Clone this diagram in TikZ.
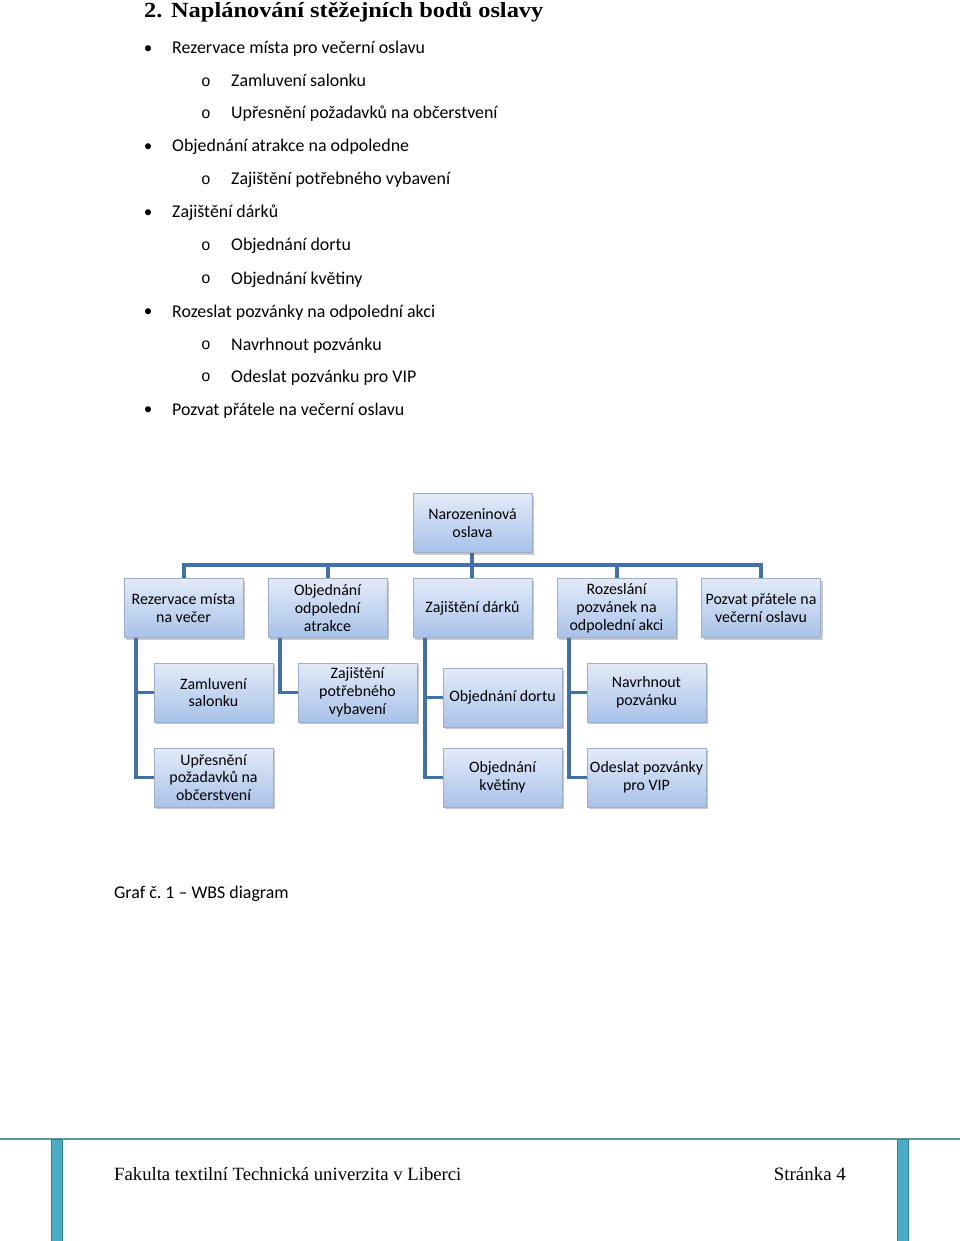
\documentclass[tikz,border=0pt]{standalone}
\usepackage{fontspec}
\setmainfont{Carlito}
\newfontfamily\headfont[FakeStretch=1.13]{Liberation Serif}
\newfontfamily\footfont{Liberation Serif}
\newfontfamily\monofont{Liberation Mono}
\usetikzlibrary{shadows}
\definecolor{connc}{HTML}{4470A8}
\definecolor{boxtop}{HTML}{E3EAF8}
\definecolor{boxbot}{HTML}{A8C2EA}
\definecolor{boxline}{HTML}{9AAECB}
\definecolor{footline}{HTML}{5A9898}
\definecolor{barfill}{HTML}{4BACC6}
\definecolor{barline}{HTML}{2F8197}
\tikzset{
  wbs/.style={draw=boxline, line width=0.6pt, top color=boxtop, bottom color=boxbot,
    minimum width=119pt, minimum height=59pt, align=center,
    inner sep=0.5pt, font=\frenchspacing\fontsize{15.9}{17.8}\selectfont,
    drop shadow={shadow xshift=2pt, shadow yshift=-2pt, opacity=0.35, fill=black!60}},
  conn/.style={draw=connc, line width=3.5pt},
  item/.style={anchor=base west, inner sep=0pt, font=\frenchspacing\fontsize{17.9}{20}\selectfont},
  bul/.style={anchor=base, inner sep=0pt, font=\fontsize{17}{19}\selectfont},
  subbul/.style={anchor=base, inner sep=0pt, font=\monofont\fontsize{16}{19}\selectfont},
}
\begin{document}
\begin{tikzpicture}[x=1pt,y=-1pt]
\useasboundingbox[fill=white] (0,0) rectangle (960,1241);
% heading
\node[anchor=base west, inner sep=0pt, font=\headfont\bfseries\fontsize{21.6}{24}\selectfont] (head) at (144,17.5) {2.\hspace{0.4em}Naplánování stěžejních bodů oslavy};
% list
\node[bul] (b1) at (148,53.5) {•};
\node[item] (t1) at (172,54) {Rezervace místa pro večerní oslavu};
\node[subbul] (s11) at (206,86.5) {o};
\node[item] (t11) at (231,87) {Zamluvení salonku};
\node[subbul] (s12) at (206,118.5) {o};
\node[item] (t12) at (231,119) {Upřesnění požadavků na občerstvení};
\node[bul] (b2) at (148,151.5) {•};
\node[item] (t2) at (172,152) {Objednání atrakce na odpoledne};
\node[subbul] (s21) at (206,184.5) {o};
\node[item] (t21) at (231,185) {Zajištění potřebného vybavení};
\node[bul] (b3) at (148,217.5) {•};
\node[item] (t3) at (172,218) {Zajištění dárků};
\node[subbul] (s31) at (206,250.5) {o};
\node[item] (t31) at (231,251) {Objednání dortu};
\node[subbul] (s32) at (206,283.5) {o};
\node[item] (t32) at (231,284) {Objednání květiny};
\node[bul] (b4) at (148,316.5) {•};
\node[item] (t4) at (172,317) {Rozeslat pozvánky na odpolední akci};
\node[subbul] (s41) at (206,349.5) {o};
\node[item] (t41) at (231,350) {Navrhnout pozvánku};
\node[subbul] (s42) at (206,381.5) {o};
\node[item] (t42) at (231,382) {Odeslat pozvánku pro VIP};
\node[bul] (b5) at (148,414.5) {•};
\node[item] (t5) at (172,415) {Pozvat přátele na večerní oslavu};
% WBS
\draw[conn] (472,553) -- (472,578);
\draw[conn] (184,578) -- (184,565) -- (761,565) -- (761,578);
\foreach \x in {328,617} {\draw[conn] (\x,565) -- (\x,578);}
\node[wbs] (root) at (472.5,523) {Narozeninová\\oslava};
\node[wbs] (c1) at (183.5,608) {Rezervace místa\\na večer};
\node[wbs] (c2) at (327.5,608) {Objednání\\odpolední\\atrakce};
\node[wbs] (c3) at (472.5,608) {Zajištění dárků};
\node[wbs] (c4) at (616.5,608) {Rozeslání\\pozvánek na\\odpolední akci};
\node[wbs] (c5) at (761,608) {Pozvat přátele na\\večerní oslavu};
\node[wbs] (g11) at (213.5,692.5) {Zamluvení\\salonku};
\node[wbs] (g12) at (213.5,777.5) {Upřesnění\\požadavků na\\občerstvení};
\node[wbs] (g21) at (357.5,692.5) {Zajištění\\potřebného\\vybavení};
\node[wbs] (g31) at (502.5,697.5) {Objednání dortu};
\node[wbs] (g32) at (502.5,777.5) {Objednání\\květiny};
\node[wbs] (g41) at (646.5,692.5) {Navrhnout\\pozvánku};
\node[wbs] (g42) at (646.5,777.5) {Odeslat pozvánky\\pro VIP};
\draw[conn] ([xshift=12.5pt]c1.south west) |- (g12.west);
\draw[conn] ([xshift=12.5pt]c1.south west |- g11.west) -- (g11.west);
\draw[conn] ([xshift=12.5pt]c2.south west) |- (g21.west);
\draw[conn] ([xshift=12.5pt]c3.south west) |- (g32.west);
\draw[conn] ([xshift=12.5pt]c3.south west |- g31.west) -- (g31.west);
\draw[conn] ([xshift=12.5pt]c4.south west) |- (g42.west);
\draw[conn] ([xshift=12.5pt]c4.south west |- g41.west) -- (g41.west);
% caption
\node[item] (cap) at (114,898) {Graf č. 1 – WBS diagram};
% footer
\draw[footline, line width=2pt] (0,1139) -- (960,1139);
\draw[barline, fill=barfill, line width=0.8pt] (51.5,1139) rectangle (62.5,1241);
\draw[barline, fill=barfill, line width=0.8pt] (897.5,1139) rectangle (908.5,1241);
\node[anchor=base west, inner sep=0pt, font=\footfont\fontsize{18.7}{21}\selectfont] (foot) at (114,1180) {Fakulta textilní Technická univerzita v Liberci};
\node[anchor=base east, inner sep=0pt, font=\footfont\fontsize{18.9}{21}\selectfont] (page) at (846,1180) {Stránka 4};
\end{tikzpicture}
\end{document}
